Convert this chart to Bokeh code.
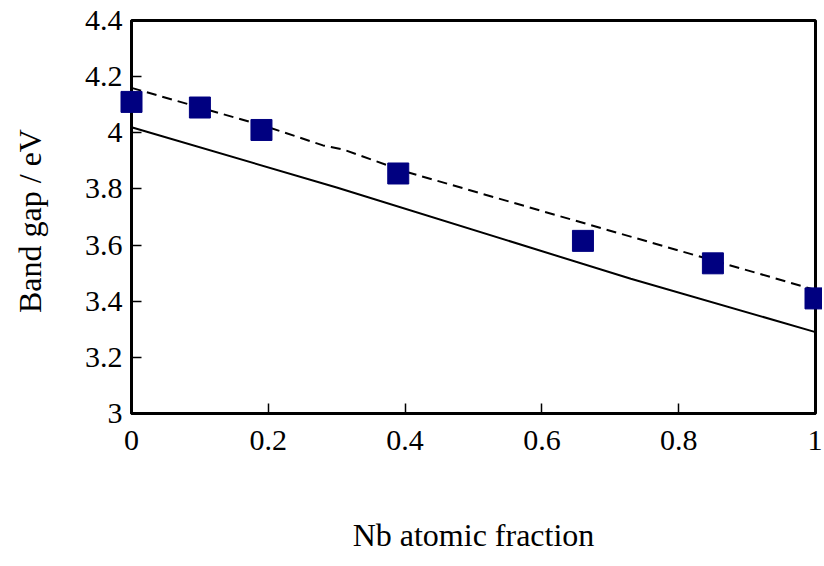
from bokeh.plotting import figure
from bokeh.models import Range1d, FixedTicker, NumeralTickFormatter
from bokeh.embed import file_html
from bokeh.resources import INLINE

# measured band gaps
nb_fraction = [0.0, 0.10, 0.19, 0.39, 0.66, 0.85, 1.0]
band_gap = [4.11, 4.09, 4.01, 3.855, 3.615, 3.535, 3.41]

# dashed curve
dash_x = [0.0, 0.2, 0.28, 0.31, 0.4, 1.0]
dash_y = [4.16, 4.02, 3.955, 3.94, 3.862, 3.44]

# solid curve
solid_x = [0.0, 0.3, 0.73, 1.0]
solid_y = [4.02, 3.805, 3.48, 3.29]

x_ticks = [0, 0.2, 0.4, 0.6, 0.8, 1.0]
y_ticks = [3.0, 3.2, 3.4, 3.6, 3.8, 4.0, 4.2, 4.4]

FONT = "Liberation Serif"

p = figure(frame_width=684, frame_height=393,
           min_border_left=131, min_border_top=20, min_border_right=7, min_border_bottom=150,
           x_range=Range1d(0, 1), y_range=Range1d(3, 4.4),
           output_backend="svg", toolbar_location=None)

p.grid.visible = False
p.outline_line_color = "black"
p.outline_line_width = 3
p.outline_line_alpha = 1

for ax in (p.xaxis, p.yaxis):
    ax.axis_line_width = 3
    ax.axis_line_color = "black"
    ax.major_tick_in = 10
    ax.major_tick_out = 0
    ax.major_tick_line_width = 1.5
    ax.minor_tick_line_color = None
    ax.major_label_text_font = FONT
    ax.major_label_text_font_size = "30px"
    ax.major_label_text_color = "black"
    ax.formatter = NumeralTickFormatter(format="0.[0]")
    ax.axis_label_text_font = FONT
    ax.axis_label_text_font_style = "normal"
    ax.axis_label_text_color = "black"

p.xaxis.ticker = FixedTicker(ticks=x_ticks)
p.yaxis.ticker = FixedTicker(ticks=y_ticks)
p.xaxis.major_label_standoff = 17
p.yaxis.major_label_standoff = 9

p.xaxis.axis_label = "Nb atomic fraction"
p.xaxis.axis_label_text_font_size = "32px"
p.xaxis.axis_label_standoff = 64

p.yaxis.axis_label = "Band gap  / eV"
p.yaxis.axis_label_text_font_size = "32px"
p.yaxis.axis_label_standoff = 34

p.line(solid_x, solid_y, line_color="black", line_width=2)
p.line(dash_x, dash_y, line_color="black", line_width=2, line_dash="10 6")
p.scatter(nb_fraction, band_gap, marker="square", size=21,
          fill_color="#000080", line_color="#000080", level="overlay")

open("out.html", "w").write(file_html(p, INLINE))
